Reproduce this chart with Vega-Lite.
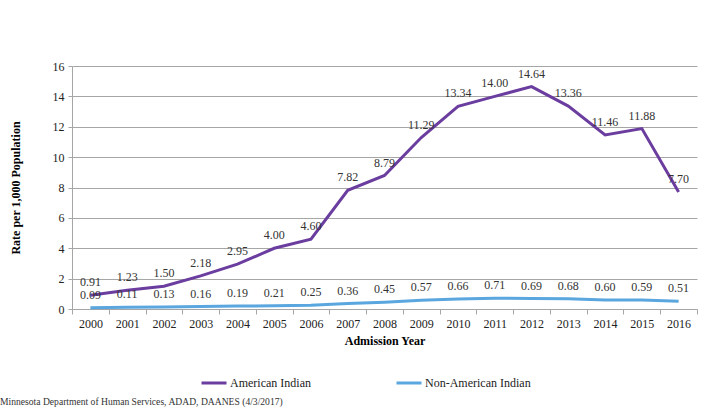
{
  "$schema": "https://vega.github.io/schema/vega-lite/v6.json",
  "width": 625,
  "height": 243,
  "autosize": {"type": "none"},
  "padding": {"left": 72, "top": 66, "right": 8, "bottom": 100},
  "background": "white",
  "config": {
    "font": "Liberation Serif",
    "view": {"stroke": null}
  },
  "title": {
    "text": "Minnesota Department of Human Services, ADAD, DAANES (4/3/2017)",
    "orient": "bottom",
    "anchor": "start",
    "frame": "group",
    "dx": -72,
    "offset": 8,
    "fontSize": 9.6,
    "fontWeight": "normal",
    "color": "#333333",
    "font": "Liberation Serif"
  },
  "data": {
    "values": [
      {"year": "2000", "group": "American Indian", "rate": 0.91},
      {"year": "2001", "group": "American Indian", "rate": 1.23},
      {"year": "2002", "group": "American Indian", "rate": 1.50},
      {"year": "2003", "group": "American Indian", "rate": 2.18},
      {"year": "2004", "group": "American Indian", "rate": 2.95},
      {"year": "2005", "group": "American Indian", "rate": 4.00},
      {"year": "2006", "group": "American Indian", "rate": 4.60},
      {"year": "2007", "group": "American Indian", "rate": 7.82},
      {"year": "2008", "group": "American Indian", "rate": 8.79},
      {"year": "2009", "group": "American Indian", "rate": 11.29},
      {"year": "2010", "group": "American Indian", "rate": 13.34},
      {"year": "2011", "group": "American Indian", "rate": 14.00},
      {"year": "2012", "group": "American Indian", "rate": 14.64},
      {"year": "2013", "group": "American Indian", "rate": 13.36},
      {"year": "2014", "group": "American Indian", "rate": 11.46},
      {"year": "2015", "group": "American Indian", "rate": 11.88},
      {"year": "2016", "group": "American Indian", "rate": 7.70},
      {"year": "2000", "group": "Non-American Indian", "rate": 0.09},
      {"year": "2001", "group": "Non-American Indian", "rate": 0.11},
      {"year": "2002", "group": "Non-American Indian", "rate": 0.13},
      {"year": "2003", "group": "Non-American Indian", "rate": 0.16},
      {"year": "2004", "group": "Non-American Indian", "rate": 0.19},
      {"year": "2005", "group": "Non-American Indian", "rate": 0.21},
      {"year": "2006", "group": "Non-American Indian", "rate": 0.25},
      {"year": "2007", "group": "Non-American Indian", "rate": 0.36},
      {"year": "2008", "group": "Non-American Indian", "rate": 0.45},
      {"year": "2009", "group": "Non-American Indian", "rate": 0.57},
      {"year": "2010", "group": "Non-American Indian", "rate": 0.66},
      {"year": "2011", "group": "Non-American Indian", "rate": 0.71},
      {"year": "2012", "group": "Non-American Indian", "rate": 0.69},
      {"year": "2013", "group": "Non-American Indian", "rate": 0.68},
      {"year": "2014", "group": "Non-American Indian", "rate": 0.60},
      {"year": "2015", "group": "Non-American Indian", "rate": 0.59},
      {"year": "2016", "group": "Non-American Indian", "rate": 0.51}
    ]
  },
  "encoding": {
    "x": {
      "field": "year",
      "type": "ordinal",
      "scale": {"paddingInner": 0, "paddingOuter": 0},
      "axis": {
        "title": "Admission Year",
        "titleFont": "Liberation Serif",
        "titleFontSize": 12,
        "titleFontWeight": "bold",
        "titleColor": "#000000",
        "titlePadding": 6,
        "labelAngle": 0,
        "labelFont": "Liberation Serif",
        "labelFontSize": 12,
        "labelColor": "#222222",
        "labelPadding": 4,
        "tickBand": "extent",
        "tickSize": 5,
        "tickColor": "#a6a6a6",
        "domainColor": "#a6a6a6",
        "grid": false
      }
    },
    "y": {
      "field": "rate",
      "type": "quantitative",
      "scale": {"domain": [0, 16], "nice": false},
      "axis": {
        "title": "Rate per 1,000 Population",
        "titleFont": "Liberation Serif",
        "titleFontSize": 12,
        "titleFontWeight": "bold",
        "titleColor": "#000000",
        "titlePadding": 30,
        "values": [0, 2, 4, 6, 8, 10, 12, 14, 16],
        "labelFont": "Liberation Serif",
        "labelFontSize": 12,
        "labelColor": "#222222",
        "labelPadding": 4,
        "tickSize": 4,
        "tickColor": "#a6a6a6",
        "domainColor": "#a6a6a6",
        "grid": true,
        "gridColor": "#a6a6a6",
        "gridWidth": 1
      }
    },
    "color": {
      "field": "group",
      "type": "nominal",
      "scale": {
        "domain": ["American Indian", "Non-American Indian"],
        "range": ["#6a3d9f", "#5aa6de"]
      },
      "legend": {
        "title": null,
        "orient": "none",
        "legendX": 128,
        "legendY": 303,
        "direction": "horizontal",
        "columns": 2,
        "columnPadding": 79,
        "symbolType": "stroke",
        "symbolSize": 625,
        "symbolStrokeWidth": 3,
        "symbolOffset": 0,
        "labelOffset": 2,
        "labelFont": "Liberation Serif",
        "labelFontSize": 12,
        "labelColor": "#222222"
      }
    }
  },
  "layer": [
    {
      "mark": {"type": "line", "strokeWidth": 3}
    },
    {
      "mark": {
        "type": "text",
        "dy": -13,
        "fontSize": 12,
        "font": "Liberation Serif",
        "color": "#333333"
      },
      "encoding": {
        "text": {"field": "rate", "type": "quantitative", "format": ".2f"},
        "color": {"value": "#333333"}
      }
    }
  ]
}
